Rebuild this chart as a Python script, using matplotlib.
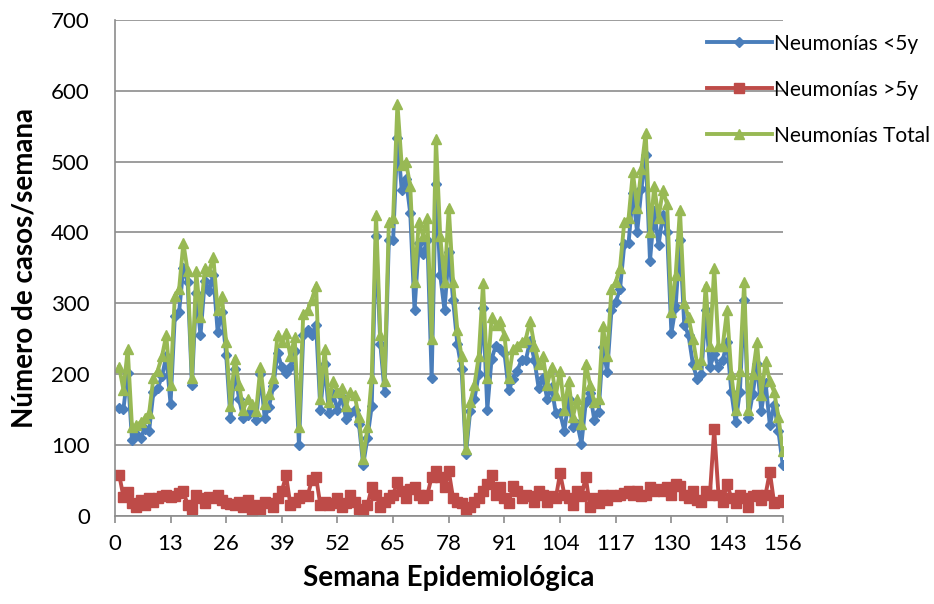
import matplotlib
matplotlib.use('Agg')
from matplotlib import pyplot as plt

semanas = list(range(1, 157))

total = [210, 178, 235, 125, 128, 132, 138, 145, 195, 205, 225, 255, 185, 310, 320, 385, 345, 195, 345, 280,
         350, 345, 365, 290, 310, 245, 155, 222, 185, 150, 165, 158, 148, 210, 158, 172, 195, 255, 245, 258,
         225, 252, 125, 285, 290, 305, 325, 165, 235, 160, 190, 175, 180, 155, 175, 170, 140, 80, 125, 195,
         425, 255, 190, 415, 420, 582, 495, 500, 465, 330, 415, 395, 420, 250, 532, 395, 330, 435, 330, 262,
         225, 95, 160, 185, 225, 328, 195, 280, 270, 275, 255, 195, 235, 240, 245, 250, 275, 240, 215, 225,
         185, 210, 170, 205, 150, 190, 140, 165, 130, 215, 185, 160, 165, 268, 225, 320, 330, 350, 415, 420,
         485, 435, 490, 540, 400, 465, 420, 460, 440, 288, 340, 432, 300, 280, 250, 215, 220, 325, 240, 350,
         240, 240, 290, 200, 150, 205, 330, 150, 200, 245, 170, 218, 190, 175, 140, 92]

mayores5 = [58, 27, 34, 18, 12, 22, 15, 25, 20, 25, 28, 30, 27, 28, 32, 35, 15, 10, 30, 25,
            18, 27, 25, 30, 22, 18, 17, 15, 20, 12, 22, 8, 15, 10, 20, 18, 12, 25, 35, 57,
            15, 20, 25, 30, 28, 50, 55, 15, 20, 15, 18, 25, 12, 18, 30, 20, 10, 8, 15, 40,
            30, 12, 20, 25, 30, 48, 35, 25, 38, 40, 30, 25, 30, 55, 63, 55, 40, 63, 25, 20,
            18, 8, 12, 20, 25, 35, 45, 58, 30, 40, 25, 18, 42, 35, 25, 30, 28, 20, 35, 30,
            20, 28, 25, 60, 30, 25, 15, 35, 28, 55, 12, 25, 18, 30, 22, 30, 28, 30, 32, 35,
            30, 35, 28, 30, 40, 35, 38, 35, 40, 30, 45, 42, 30, 25, 35, 22, 20, 35, 30, 122,
            30, 20, 45, 25, 18, 30, 25, 12, 28, 30, 22, 30, 62, 18, 20, 22]

menores5 = [152, 151, 201, 107, 116, 110, 123, 120, 175, 180, 197, 225, 158, 282, 288, 350, 330, 185, 315, 255,
            332, 318, 340, 260, 288, 227, 138, 207, 165, 138, 143, 150, 135, 200, 138, 154, 183, 230, 210, 201,
            210, 232, 100, 255, 262, 255, 270, 150, 215, 145, 172, 150, 168, 137, 145, 150, 130, 72, 110, 155,
            395, 243, 175, 390, 390, 534, 460, 475, 427, 290, 385, 370, 390, 195, 469, 340, 290, 372, 305, 242,
            207, 87, 148, 165, 200, 293, 150, 222, 240, 235, 230, 177, 193, 205, 220, 220, 247, 220, 180, 195,
            165, 182, 145, 145, 120, 165, 125, 130, 102, 160, 173, 135, 147, 238, 203, 290, 302, 320, 383, 385,
            455, 400, 462, 510, 360, 430, 382, 425, 400, 258, 295, 390, 270, 255, 215, 193, 200, 290, 210, 228,
            210, 220, 245, 175, 132, 175, 305, 138, 172, 215, 148, 188, 128, 157, 120, 72]

etiquetas = ['Neumonías <5y', 'Neumonías >5y', 'Neumonías Total']

plt.rcParams['font.family'] = ['Lato', 'DejaVu Sans']
fig = plt.figure(figsize=(9.34, 6.04), dpi=100)
ax = fig.add_axes((0.123, 0.146, 0.715, 0.821))

ax.plot(semanas, menores5, color='#4A7EBB', lw=2.8, marker='D', ms=5, label=etiquetas[0])
ax.plot(semanas, mayores5, color='#BE4B48', lw=2.8, marker='s', ms=6.5, label=etiquetas[1])
ax.plot(semanas, total, color='#98B954', lw=2.8, marker='^', ms=7.5, label=etiquetas[2])

ax.set_xlim(0, 156)
ax.set_ylim(0, 700)
ax.set_xticks(range(0, 157, 13))
ax.set_yticks(range(0, 701, 100))
ax.yaxis.grid(True, color='#8c8c8c', lw=1.2)
ax.set_axisbelow(True)
for s in ('top', 'right'):
  ax.spines[s].set_visible(False)
for s in ('left', 'bottom'):
  ax.spines[s].set_color('#8c8c8c')
  ax.spines[s].set_linewidth(1.2)
ax.tick_params(axis='both', colors='#8c8c8c', labelcolor='black', labelsize=16, length=5, width=1.2)
ax.tick_params(axis='x', pad=8)
ax.tick_params(axis='y', length=0, pad=18)

ax.set_xlabel('Semana Epidemiológica', fontsize=20, fontweight='bold', labelpad=8)
ax.set_ylabel('Número de casos/semana', fontsize=20, fontweight='bold', labelpad=10)

fig.legend(loc='upper left', bbox_to_anchor=(0.748, 0.958), frameon=False, fontsize=15,
           handlelength=3.1, handletextpad=0.1, labelspacing=1.25, borderaxespad=0)

fig.savefig('out.png', dpi=100)
